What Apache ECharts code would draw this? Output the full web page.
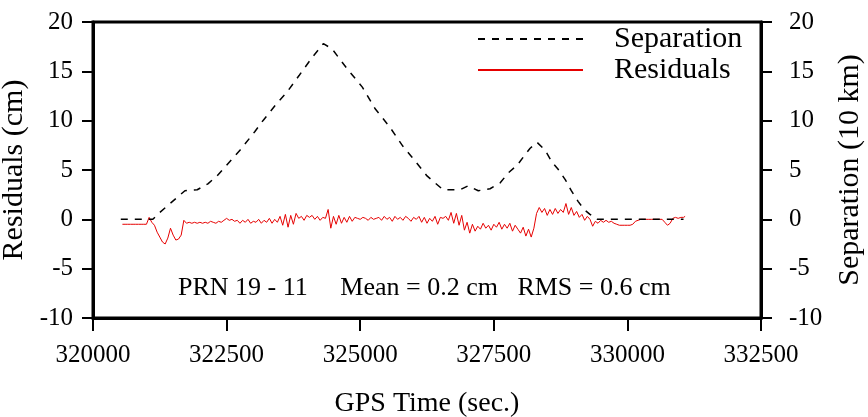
<!DOCTYPE html>
<html>
<head>
<meta charset="utf-8">
<script src="https://cdn.jsdelivr.net/npm/echarts@6/dist/echarts.min.js"></script>
<style>html,body{margin:0;padding:0;background:#fff}#c{width:868px;height:417px}</style>
</head>
<body>
<div id="c"></div>
<script>
var xTicks = [320000, 322500, 325000, 327500, 330000, 332500];
var yTicks = [-10, -5, 0, 5, 10, 15, 20];

var sepTime = [320520, 321120, 321250, 321720, 321950, 322150, 322320, 322470, 322750, 323030, 323180, 323440, 323630, 323860, 324100, 324310, 324470, 324750, 325040, 325280, 325430, 325560, 325800, 325970, 326250, 326400, 326550, 326870, 327020, 327210, 327430, 327620, 327770, 327940, 328050, 328180, 328310, 328460, 328590, 328700, 328840, 328950, 329080, 329190, 329300, 329430, 331050];
var sepValue = [0, 0, 0.7, 2.9, 3.0, 3.6, 4.4, 5.3, 7.0, 8.9, 10.0, 11.75, 12.9, 14.6, 16.4, 17.8, 17.3, 15.3, 13.4, 11.2, 10.2, 9.3, 7.4, 6.3, 4.4, 3.7, 3.0, 3.0, 3.4, 2.9, 3.1, 3.7, 4.7, 5.5, 6.3, 7.2, 7.8, 7.0, 5.8, 5.1, 4.0, 2.9, 1.8, 1.0, 0.5, 0, 0];

var resTime = [320550,320600,320650,320700,320750,320800,320850,320900,320950,321000,321050,321100,321150,321200,321250,321300,321350,321400,321450,321500,321550,321600,321650,321700,321750,321800,321850,321900,321950,322000,322050,322100,322150,322200,322250,322300,322350,322400,322450,322500,322550,322600,322650,322700,322750,322800,322850,322900,322950,323000,323050,323100,323150,323200,323250,323300,323350,323400,323450,323500,323550,323600,323650,323700,323750,323800,323850,323900,323950,324000,324050,324100,324150,324200,324250,324300,324350,324400,324450,324500,324550,324600,324650,324700,324750,324800,324850,324900,324950,325000,325050,325100,325150,325200,325250,325300,325350,325400,325450,325500,325550,325600,325650,325700,325750,325800,325850,325900,325950,326000,326050,326100,326150,326200,326250,326300,326350,326400,326450,326500,326550,326600,326650,326700,326750,326800,326850,326900,326950,327000,327050,327100,327150,327200,327250,327300,327350,327400,327450,327500,327550,327600,327650,327700,327750,327800,327850,327900,327950,328000,328050,328100,328150,328200,328250,328300,328350,328400,328450,328500,328550,328600,328650,328700,328750,328800,328850,328900,328950,329000,329050,329100,329150,329200,329250,329300,329350,329400,329450,329500,329550,329600,329650,329700,329750,329800,329850,329900,329950,330000,330050,330100,330150,330200,330250,330300,330350,330400,330450,330500,330550,330600,330650,330700,330750,330800,330850,330900,330950,331000,331050,331080];
var resValue = [-0.5,-0.5,-0.5,-0.5,-0.5,-0.5,-0.5,-0.5,-0.5,-0.5,0.2,-0.3,-0.6,-1.3,-1.8,-2.3,-2.5,-1.9,-0.9,-1.6,-2.1,-2.0,-1.6,-0.1,-0.4,-0.3,-0.4,-0.3,-0.4,-0.3,-0.4,-0.3,-0.4,-0.2,-0.3,-0.4,-0.2,-0.3,-0.1,0.1,-0.1,0.0,-0.2,-0.1,-0.4,-0.1,-0.3,0.0,-0.4,-0.2,-0.3,0.0,-0.4,-0.1,-0.3,0.1,-0.4,0.0,-0.3,0.3,-0.6,0.5,-0.8,0.4,-0.5,0.6,0.1,0.3,-0.1,0.4,0.2,0.4,0.0,0.3,-0.1,0.2,0.1,1.0,-0.9,0.3,-0.5,0.4,-0.4,0.2,-0.3,0.3,-0.2,0.2,0.1,0.0,0.2,0.1,-0.1,0.2,0.0,0.1,0.2,-0.1,0.3,0.0,0.2,-0.2,0.3,0.0,0.2,-0.1,0.3,0.1,-0.2,0.2,0.0,0.3,-0.3,0.2,-0.4,0.1,-0.2,0.3,-0.5,0.2,0.1,0.3,-0.1,0.7,-0.4,0.6,-0.6,0.4,-1.1,-0.3,-1.4,-0.5,-1.2,-0.7,-1.0,-0.4,-0.9,-0.6,-1.1,-0.5,-0.8,-0.3,-1.0,-0.5,-0.9,-0.4,-1.2,-0.6,-1.0,-1.4,-0.8,-1.7,-1.0,-1.8,-0.9,0.6,1.2,0.7,1.1,0.4,1.0,0.5,1.1,0.6,1.0,0.7,1.6,0.5,1.2,0.4,0.8,0.2,0.5,-0.1,0.3,0.0,-0.7,-0.2,-0.4,-0.1,-0.3,-0.1,-0.3,-0.2,-0.4,-0.5,-0.6,-0.6,-0.6,-0.6,-0.6,-0.5,-0.2,-0.1,0.0,0.0,0.0,0.0,0.0,0.0,0.0,0.0,0.0,-0.3,-0.6,-0.4,0.1,0.2,0.1,0.2,0.2,0.3];

function zip(a, b) { return a.map(function (t, i) { return [t, b[i]]; }); }

var FONT = 'Liberation Serif';
var chart = echarts.init(document.getElementById('c'), null, {renderer: 'canvas'});
var yAxisCommon = {
  type: 'value', min: yTicks[0], max: yTicks[yTicks.length - 1], interval: 5,
  splitLine: {show: false},
  axisLine: {show: true, onZero: false, lineStyle: {color: '#000', width: 3}},
  axisTick: {show: true, inside: false, length: 11, lineStyle: {color: '#000', width: 2}},
  nameLocation: 'middle', nameRotate: 90,
  nameTextStyle: {fontFamily: FONT, fontSize: 30, color: '#000'}
};
chart.setOption({
  animation: false,
  grid: {left: 93, right: 107, top: 22, bottom: 99, show: true, borderColor: '#000', borderWidth: 3,
         containLabel: false, outerBoundsMode: 'none'},
  legend: {
    orient: 'vertical', left: 477, top: 24, padding: 0, itemWidth: 105, itemHeight: 14, itemGap: 1,
    itemStyle: {opacity: 0},
    textStyle: {fontFamily: FONT, fontSize: 30, color: '#000', lineHeight: 30, padding: [0, 0, 0, 26]},
    data: ['Separation', 'Residuals']
  },
  graphic: [{
    type: 'text', left: 178, top: 275,
    style: {text: 'PRN 19 - 11     Mean = 0.2 cm   RMS = 0.6 cm', fontFamily: FONT, fontSize: 26, fill: '#000'}
  }],
  xAxis: {
    type: 'value', min: xTicks[0], max: xTicks[xTicks.length - 1], interval: 2500,
    splitLine: {show: false},
    axisLine: {show: true, onZero: false, lineStyle: {color: '#000', width: 3}},
    axisTick: {show: true, inside: false, length: 13, lineStyle: {color: '#000', width: 2}},
    axisLabel: {fontFamily: FONT, fontSize: 25, color: '#000', margin: 25,
                formatter: function (v) { return String(v); }},
    name: 'GPS Time (sec.)', nameLocation: 'middle', nameGap: 72,
    nameTextStyle: {fontFamily: FONT, fontSize: 28, color: '#000'}
  },
  yAxis: [
    Object.assign({}, yAxisCommon, {
      position: 'left', name: 'Residuals (cm)', nameGap: 45,
      axisLabel: {fontFamily: FONT, fontSize: 25, color: '#000', margin: 20}
    }),
    Object.assign({}, yAxisCommon, {
      position: 'right', name: 'Separation (10 km)', nameGap: 74,
      axisLabel: {fontFamily: FONT, fontSize: 25, color: '#000', margin: 28}
    })
  ],
  series: [
    {
      name: 'Separation', type: 'line', yAxisIndex: 1, symbol: 'none', color: '#000',
      lineStyle: {color: '#000', width: 1.5, type: [7, 7]},
      data: zip(sepTime, sepValue), z: 3
    },
    {
      name: 'Residuals', type: 'line', yAxisIndex: 0, symbol: 'none', color: '#e60000',
      lineStyle: {color: '#e60000', width: 1},
      data: zip(resTime, resValue), z: 2
    }
  ]
});
</script>
</body>
</html>
